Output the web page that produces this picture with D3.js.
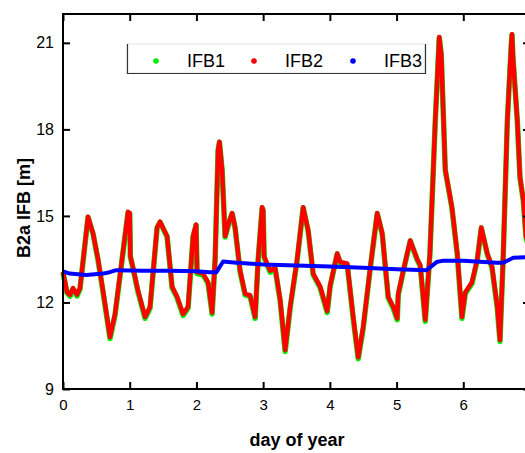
<!DOCTYPE html>
<html>
<head>
<meta charset="utf-8">
<script src="https://cdn.jsdelivr.net/npm/d3@7"></script>
<style>
  body { margin: 0; background: #fff; }
  svg { display: block; font-family: Arial, "Liberation Sans", sans-serif; }
</style>
</head>
<body>
<svg id="chart"></svg>
<script>
// day of year (relative) and IFB values [m]
var days = [0.00, 0.06, 0.105, 0.15, 0.21, 0.255, 0.375, 0.45, 0.525, 0.60, 0.705, 0.78, 0.885, 0.975, 1.00,
	1.01, 1.05, 1.125, 1.23, 1.305, 1.41, 1.455, 1.56, 1.635, 1.71, 1.80, 1.875, 1.95, 1.995,
	2.01, 2.10, 2.175, 2.235, 2.28, 2.325, 2.345, 2.385, 2.43, 2.49, 2.535, 2.58, 2.655, 2.73, 2.805, 2.88, 2.925, 2.985, 3.00,
	3.015, 3.105, 3.18, 3.255, 3.33, 3.405, 3.51, 3.60, 3.675, 3.75, 3.855, 3.96,
	4.005, 4.11, 4.155, 4.26, 4.35, 4.425, 4.50, 4.605, 4.71, 4.785, 4.875, 4.95, 5.01,
	5.025, 5.10, 5.205, 5.31, 5.355, 5.43, 5.50, 5.58, 5.64, 5.67, 5.73, 5.83, 5.91, 5.98,
	6.03, 6.13, 6.21, 6.27, 6.36, 6.43, 6.51, 6.55, 6.60, 6.66, 6.72, 6.73, 6.745, 6.81, 6.85, 6.90, 6.94, 7.00];

var ifb2 = [13.06, 12.36, 12.26, 12.5, 12.27, 12.5, 14.97, 14.4, 13.5, 12.4, 10.8, 11.6, 13.5, 15.14, 15.1,
	13.6, 13.2, 12.4, 11.5, 11.85, 14.6, 14.8, 14.3, 12.55, 12.2, 11.6, 11.85, 14.3, 14.7,
	13.05, 13.0, 12.7, 11.65, 13.5, 17.3, 17.57, 16.6, 14.3, 14.8, 15.1, 14.6, 13.1, 12.3, 12.25, 11.5, 13.5, 15.3, 15.2,
	13.6, 13.1, 13.2, 12.1, 10.35, 11.85, 13.5, 15.3, 14.5, 13.0, 12.55, 11.7,
	12.6, 13.7, 13.4, 13.35, 11.5, 10.1, 11.15, 13.2, 15.1, 14.4, 12.2, 11.85, 11.45,
	12.3, 13.1, 14.15, 13.5, 13.3, 11.4, 13.7, 18.3, 21.2, 20.6, 16.6, 15.3, 13.7, 11.5,
	12.35, 12.7, 13.5, 14.6, 13.7, 13.25, 11.85, 10.7, 13.7, 18.3, 21.0, 21.3, 20.5, 18.3, 16.35, 15.55, 14.3, 13.8];

var ifb1 = [13.04, 12.33, 12.22, 12.47, 12.23, 12.47, 14.95, 14.38, 13.47, 12.36, 10.75, 11.56, 13.47, 15.12, 15.08,
	13.58, 13.17, 12.36, 11.45, 11.81, 14.58, 14.78, 14.28, 12.51, 12.16, 11.55, 11.81, 14.28, 14.68,
	13.0, 12.95, 12.66, 11.6, 13.47, 17.28, 17.55, 16.58, 14.27, 14.78, 15.08, 14.57, 13.06, 12.26, 12.21, 11.45, 13.47, 15.28, 15.18,
	13.56, 13.05, 13.16, 12.06, 10.3, 11.81, 13.47, 15.28, 14.47, 12.96, 12.51, 11.65,
	12.56, 13.68, 13.37, 13.31, 11.45, 10.05, 11.11, 13.17, 15.08, 14.37, 12.16, 11.8, 11.4,
	12.26, 13.07, 14.13, 13.47, 13.26, 11.35, 13.67, 18.28, 21.18, 20.58, 16.58, 15.27, 13.66, 11.45,
	12.31, 12.66, 13.47, 14.58, 13.67, 13.21, 11.8, 10.65, 13.67, 18.28, 20.98, 21.28, 20.48, 18.28, 16.32, 15.52, 14.27, 13.77];

var days3 = [0.00, 0.10, 0.35, 0.60, 0.70, 0.80, 1.20, 1.60, 2.00, 2.20, 2.30, 2.40, 2.60, 3.00, 3.50, 4.00,
	4.50, 5.00, 5.45, 5.60, 5.70, 6.00, 6.50, 6.60, 6.75, 7.00];
var ifb3 = [13.08, 13.0, 12.95, 13.0, 13.05, 13.12, 13.1, 13.1, 13.08, 13.05, 13.05, 13.42, 13.38, 13.32, 13.28, 13.25,
	13.2, 13.15, 13.12, 13.4, 13.45, 13.45, 13.38, 13.38, 13.55, 13.58];

var xTicks = [0, 1, 2, 3, 4, 5, 6, 7];
var xLabels = ["0", "1", "2", "3", "4", "5", "6", ""];
var yTicks = [9, 12, 15, 18, 21];
var seriesNames = ["IFB1", "IFB2", "IFB3"];
var seriesColors = ["#00ee00", "#ff0000", "#0000ff"];

var width = 525, height = 453;
var margin = {left: 63, top: 14, right: 530, bottom: 389};

var svg = d3.select("#chart").attr("width", width).attr("height", height);

var x = d3.scaleLinear().domain([0, 7]).range([margin.left, margin.right]);
var y = d3.scaleLinear().domain([9, 22]).range([margin.bottom, margin.top]);

// series
var line = d3.line()
	.x(function(d){ return x(d[0]); })
	.y(function(d){ return y(d[1]); });

var plot = svg.append("g");

plot.append("path")
	.datum(d3.zip(days, ifb1))
	.attr("fill", "none")
	.attr("stroke", seriesColors[0])
	.attr("stroke-width", 5.5)
	.attr("stroke-linejoin", "round")
	.attr("d", line);

plot.append("path")
	.datum(d3.zip(days, ifb2))
	.attr("fill", "none")
	.attr("stroke", seriesColors[1])
	.attr("stroke-width", 4.5)
	.attr("stroke-linejoin", "round")
	.attr("d", line);

plot.append("path")
	.datum(d3.zip(days3, ifb3))
	.attr("fill", "none")
	.attr("stroke", seriesColors[2])
	.attr("stroke-width", 4)
	.attr("stroke-linejoin", "round")
	.attr("d", line);

// axes (ticks point inward)
function styleAxis(g){
	g.select(".domain").remove();
	g.selectAll(".tick line").attr("stroke", "#000").attr("stroke-width", 2);
	g.selectAll("text").attr("font-size", 15).attr("fill", "#000")
		.attr("font-family", "Arial, 'Liberation Sans', sans-serif");
}

svg.append("g")
	.attr("transform", "translate(0," + margin.bottom + ")")
	.call(d3.axisBottom(x).tickValues(xTicks).tickFormat(function(d, i){ return xLabels[i]; })
		.tickSizeInner(-7).tickPadding(10))
	.call(styleAxis);

svg.append("g")
	.attr("transform", "translate(0," + margin.top + ")")
	.call(d3.axisTop(x).tickValues(xTicks).tickFormat("").tickSizeInner(-7))
	.call(styleAxis);

svg.append("g")
	.attr("transform", "translate(" + margin.left + ",0)")
	.call(d3.axisLeft(y).tickValues(yTicks).tickFormat(d3.format("d")).tickSizeInner(-7).tickPadding(9))
	.call(styleAxis)
	.selectAll("text").attr("font-size", 16);

svg.append("g")
	.attr("transform", "translate(" + margin.right + ",0)")
	.call(d3.axisRight(y).tickValues(yTicks).tickFormat("").tickSizeInner(-7))
	.call(styleAxis);

// frame
svg.append("rect")
	.attr("x", margin.left)
	.attr("y", margin.top)
	.attr("width", margin.right - margin.left)
	.attr("height", margin.bottom - margin.top)
	.attr("fill", "none")
	.attr("stroke", "#000")
	.attr("stroke-width", 2);

// axis titles
svg.append("text")
	.attr("x", 297).attr("y", 446)
	.attr("text-anchor", "middle")
	.attr("font-size", 18).attr("font-weight", "bold")
	.text("day of year");

svg.append("text")
	.attr("transform", "translate(30,208) rotate(-90)")
	.attr("text-anchor", "middle")
	.attr("font-size", 18).attr("font-weight", "bold")
	.text("B2a IFB [m]");

// legend
var legend = svg.append("g");
legend.append("rect")
	.attr("x", 127).attr("y", 44).attr("width", 298).attr("height", 29)
	.attr("fill", "#fff").attr("stroke", "#e4e4e4").attr("stroke-width", 1);
legend.append("path")
	.attr("d", "M127.5,44 V73.5 H425.5 V44")
	.attr("fill", "none").attr("stroke", "#333").attr("stroke-width", 1.2);

var legendX = [156, 254, 353];
seriesNames.forEach(function(name, i){
	legend.append("circle")
		.attr("cx", legendX[i]).attr("cy", 61).attr("r", 2.8)
		.attr("fill", seriesColors[i]);
	legend.append("text")
		.attr("x", legendX[i] + 31).attr("y", 67)
		.attr("font-size", 18)
		.text(name);
});
</script>
</body>
</html>
